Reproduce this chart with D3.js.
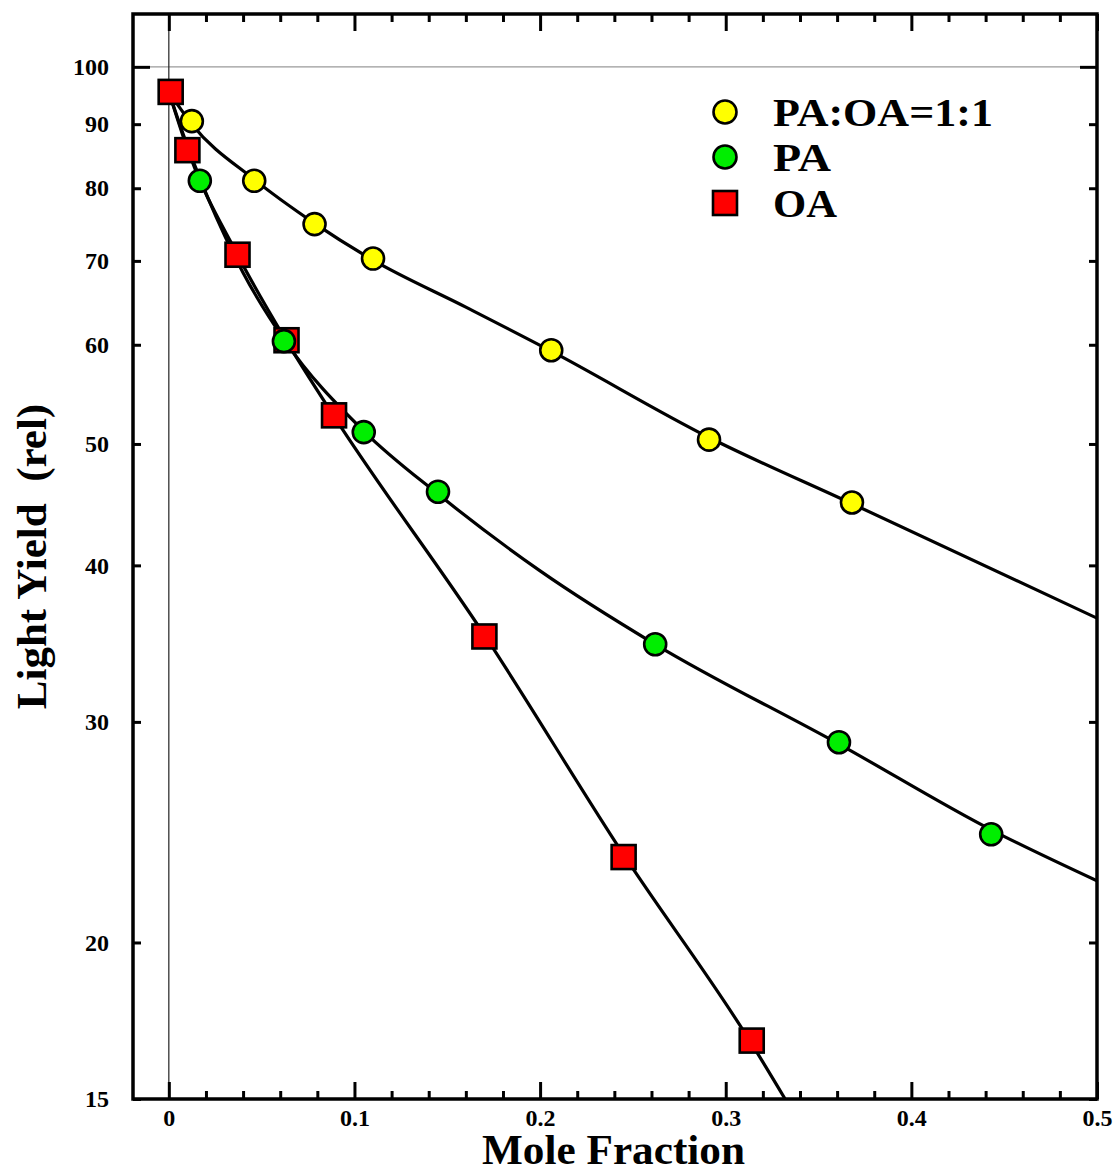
<!DOCTYPE html>
<html>
<head>
<meta charset="utf-8">
<script src="https://cdn.jsdelivr.net/npm/d3@7"></script>
<style>
  html, body { margin: 0; padding: 0; background: #fff; }
  svg text { font-family: "Liberation Serif", "Times New Roman", serif; font-weight: bold; fill: #000; }
</style>
</head>
<body>
<svg id="chart" width="1116" height="1175"></svg>
<script>
// ---- Data ----
const seriesNames = ["PA:OA=1:1", "PA", "OA"];

const mixX = [0.0124, 0.046, 0.0785, 0.110, 0.206, 0.291, 0.368];
const mixY = [90.5, 81.1, 74.9, 70.3, 59.4, 50.4, 44.9];

const paX = [0.0167, 0.062, 0.105, 0.145, 0.262, 0.361, 0.443];
const paY = [81.1, 60.4, 51.1, 45.8, 34.6, 28.9, 24.4];

const oaX = [0.001, 0.010, 0.037, 0.0634, 0.089, 0.170, 0.245, 0.314];
const oaY = [95.5, 85.8, 70.8, 60.5, 52.7, 35.1, 23.4, 16.7];

// fitted curves
const fitMixX = [0, 0.0124, 0.046, 0.0785, 0.110, 0.160, 0.206, 0.291, 0.368, 0.5];
const fitMixY = [95.5, 90.0, 81.3, 75.0, 70.1, 64.3, 59.3, 50.6, 44.8, 36.3];
const fitPaX = [0, 0.010, 0.0167, 0.040, 0.062, 0.105, 0.145, 0.200, 0.262, 0.361, 0.443, 0.5];
const fitPaY = [95.5, 86.5, 81.5, 68.5, 60.6, 51.2, 45.6, 39.6, 34.6, 28.8, 24.6, 22.4];
const fitOaX = [0, 0.010, 0.037, 0.0634, 0.089, 0.170, 0.245, 0.314, 0.332];
const fitOaY = [95.5, 86.0, 70.8, 60.4, 52.6, 35.2, 23.5, 16.6, 15.0];

const xTickValues = [0, 0.1, 0.2, 0.3, 0.4, 0.5];
const xTickLabels = ["0", "0.1", "0.2", "0.3", "0.4", "0.5"];
const xMinorTicks = [0.02, 0.04, 0.06, 0.08, 0.12, 0.14, 0.16, 0.18, 0.22, 0.24, 0.26, 0.28,
                     0.32, 0.34, 0.36, 0.38, 0.42, 0.44, 0.46, 0.48];
const yTickValues = [15, 20, 30, 40, 50, 60, 70, 80, 90, 100];
const yTickLabels = ["15", "20", "30", "40", "50", "60", "70", "80", "90", "100"];

// ---- Layout ----
const L = 133, R = 1097, T = 14, B = 1099;
const svg = d3.select("#chart");

const x = d3.scaleLinear().domain([-0.0193, 0.5]).range([L, R]);
const y = d3.scaleLog().domain([15, 110.2]).range([B, T]);

svg.append("line").attr("x1", L).attr("x2", R).attr("y1", y(100)).attr("y2", y(100))
  .attr("stroke", "#9a9a9a").attr("stroke-width", 1.3);
svg.append("line").attr("x1", x(0)).attr("x2", x(0)).attr("y1", T).attr("y2", B)
  .attr("stroke", "#222").attr("stroke-width", 1.2);

function styleAxis(g) {
  g.select(".domain").remove();
  g.selectAll(".tick line").attr("stroke", "#000").attr("stroke-width", 3);
}
const tickFmtX = (d) => xTickLabels[xTickValues.indexOf(d)];
const tickFmtY = (d) => yTickLabels[yTickValues.indexOf(d)];
const LBL = 24;

svg.append("g").attr("transform", `translate(0,${B})`)
  .call(d3.axisBottom(x).tickValues(xTickValues).tickSizeInner(-17).tickSizeOuter(0).tickFormat(tickFmtX))
  .call(styleAxis)
  .call(g => g.selectAll(".tick text").attr("font-size", LBL).attr("y", 19).attr("dy", "0.35em"));
svg.append("g").attr("transform", `translate(0,${B})`)
  .call(d3.axisBottom(x).tickValues(xMinorTicks).tickSizeInner(-8).tickSizeOuter(0).tickFormat(""))
  .call(styleAxis);
svg.append("g").attr("transform", `translate(0,${T})`)
  .call(d3.axisTop(x).tickValues(xTickValues).tickSizeInner(-17).tickSizeOuter(0).tickFormat(""))
  .call(styleAxis);
svg.append("g").attr("transform", `translate(0,${T})`)
  .call(d3.axisTop(x).tickValues(xMinorTicks).tickSizeInner(-8).tickSizeOuter(0).tickFormat(""))
  .call(styleAxis);

const yMajor = [100];
const yOther = yTickValues.filter(v => v !== 100);
svg.append("g").attr("transform", `translate(${L},0)`)
  .call(d3.axisLeft(y).tickValues(yOther).tickSizeInner(-8).tickSizeOuter(0).tickFormat(tickFmtY))
  .call(styleAxis)
  .call(g => g.selectAll(".tick text").attr("font-size", LBL).attr("x", -24));
svg.append("g").attr("transform", `translate(${L},0)`)
  .call(d3.axisLeft(y).tickValues(yMajor).tickSizeInner(-17).tickSizeOuter(0).tickFormat(tickFmtY))
  .call(styleAxis)
  .call(g => g.selectAll(".tick text").attr("font-size", LBL).attr("x", -24));
svg.append("g").attr("transform", `translate(${R},0)`)
  .call(d3.axisRight(y).tickValues(yOther).tickSizeInner(-8).tickSizeOuter(0).tickFormat(""))
  .call(styleAxis);
svg.append("g").attr("transform", `translate(${R},0)`)
  .call(d3.axisRight(y).tickValues(yMajor).tickSizeInner(-17).tickSizeOuter(0).tickFormat(""))
  .call(styleAxis);

svg.append("rect").attr("x", L).attr("y", T).attr("width", R - L).attr("height", B - T)
  .attr("fill", "none").attr("stroke", "#000").attr("stroke-width", 3.5);

svg.append("clipPath").attr("id", "plotclip").append("rect")
  .attr("x", L).attr("y", T).attr("width", R - L).attr("height", B - T);

const lineGen = d3.line().x(d => x(d[0])).y(d => y(d[1])).curve(d3.curveMonotoneX);
const fits = [d3.zip(fitMixX, fitMixY), d3.zip(fitPaX, fitPaY), d3.zip(fitOaX, fitOaY)];
const curves = svg.append("g").attr("clip-path", "url(#plotclip)");
fits.forEach(f => {
  curves.append("path").attr("d", lineGen(f)).attr("fill", "none")
    .attr("stroke", "#000").attr("stroke-width", 3.2).attr("stroke-linejoin", "round");
});

const SQ = 24, RAD = 11;
const marks = svg.append("g");
marks.selectAll("rect.oa").data(d3.zip(oaX, oaY)).join("rect").attr("class", "oa")
  .attr("x", d => x(d[0]) - SQ / 2).attr("y", d => y(d[1]) - SQ / 2)
  .attr("width", SQ).attr("height", SQ)
  .attr("fill", "#ff0000").attr("stroke", "#000").attr("stroke-width", 2.6);
marks.selectAll("circle.pa").data(d3.zip(paX, paY)).join("circle").attr("class", "pa")
  .attr("cx", d => x(d[0])).attr("cy", d => y(d[1])).attr("r", RAD)
  .attr("fill", "#00ee00").attr("stroke", "#000").attr("stroke-width", 2.6);
marks.selectAll("circle.mix").data(d3.zip(mixX, mixY)).join("circle").attr("class", "mix")
  .attr("cx", d => x(d[0])).attr("cy", d => y(d[1])).attr("r", RAD)
  .attr("fill", "#ffff00").attr("stroke", "#000").attr("stroke-width", 2.6);

const legend = svg.append("g");
const legY = [112, 157, 203];
const legFill = ["#ffff00", "#00ee00", "#ff0000"];
const legWidth = [220, 58, 64];
seriesNames.forEach((name, i) => {
  if (i < 2) {
    legend.append("circle").attr("cx", 725).attr("cy", legY[i]).attr("r", 11.5)
      .attr("fill", legFill[i]).attr("stroke", "#000").attr("stroke-width", 2.6);
  } else {
    legend.append("rect").attr("x", 725 - 12).attr("y", legY[i] - 12).attr("width", 24).attr("height", 24)
      .attr("fill", legFill[i]).attr("stroke", "#000").attr("stroke-width", 2.6);
  }
  legend.append("text").attr("x", 773).attr("y", legY[i] + 14)
    .attr("font-size", 39).attr("textLength", legWidth[i]).attr("lengthAdjust", "spacingAndGlyphs")
    .text(name);
});

svg.append("text").attr("x", (482 + 745) / 2).attr("y", 1164).attr("text-anchor", "middle")
  .attr("font-size", 43).attr("textLength", 263).attr("lengthAdjust", "spacingAndGlyphs")
  .text("Mole Fraction");
svg.append("text").attr("transform", `translate(46,${(400 + 713) / 2}) rotate(-90)`)
  .attr("text-anchor", "middle").attr("font-size", 43)
  .style("white-space", "pre").text("Light Yield  (rel)");
</script>
</body>
</html>
